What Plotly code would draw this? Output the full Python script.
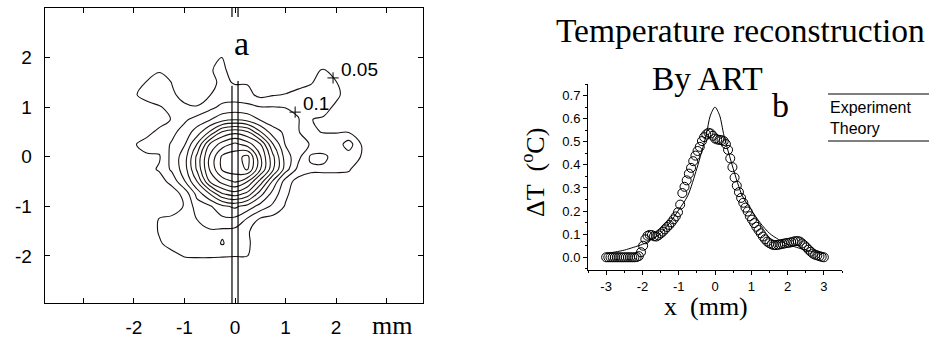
import plotly.graph_objects as go

# ---------------- Panel a: contour map data ----------------
grid_x = [-2.5, -2.25, -2.0, -1.75, -1.5, -1.25, -1.0, -0.75, -0.5, -0.25, 0.0,
          0.25, 0.5, 0.75, 1.0, 1.25, 1.5, 1.75, 2.0, 2.25, 2.5, 2.75]
grid_y_top_down = [2.25, 2.0, 1.75, 1.5, 1.25, 1.0, 0.75, 0.5, 0.25, 0.0, -0.25,
                   -0.5, -0.75, -1.0, -1.25, -1.5, -1.75, -2.0, -2.25]
z_rows_top_down = [
    [0] * 22,
    [0, 0, 0, 0, 0, 0, 0, 0, 0.035, 0.052, 0.015, 0, 0, 0, 0, 0, 0.005, 0.02, 0.01, 0, 0, 0],
    [0, 0, 0.01, 0.025, 0.045, 0.035, 0.015, 0.01, 0.045, 0.065, 0.015, 0.015, 0.013, 0.01, 0.008, 0.015, 0.04, 0.053, 0.03, 0.01, 0, 0],
    [0, 0.01, 0.03, 0.052, 0.07, 0.049, 0.025, 0.02, 0.035, 0.062, 0.045, 0.046, 0.025, 0.02, 0.028, 0.038, 0.046, 0.07, 0.052, 0.02, 0, 0],
    [0, 0.02, 0.045, 0.065, 0.07, 0.055, 0.04, 0.035, 0.048, 0.07, 0.075, 0.065, 0.035, 0.046, 0.052, 0.06, 0.07, 0.08, 0.06, 0.03, 0.01, 0],
    [0, 0.01, 0.025, 0.035, 0.047, 0.06, 0.055, 0.052, 0.085, 0.114, 0.118, 0.114, 0.102, 0.102, 0.098, 0.085, 0.075, 0.065, 0.042, 0.015, 0, 0],
    [0, 0.005, 0.02, 0.03, 0.035, 0.052, 0.09, 0.122, 0.145, 0.181, 0.197, 0.181, 0.145, 0.122, 0.13, 0.104, 0.051, 0.045, 0.03, 0.01, 0, 0],
    [0, 0.005, 0.02, 0.04, 0.058, 0.085, 0.123, 0.171, 0.255, 0.354, 0.382, 0.354, 0.255, 0.171, 0.14, 0.105, 0.056, 0.048, 0.048, 0.047, 0.02, 0],
    [0, 0.02, 0.047, 0.062, 0.07, 0.106, 0.146, 0.253, 0.405, 0.475, 0.514, 0.475, 0.405, 0.253, 0.146, 0.13, 0.095, 0.075, 0.07, 0.125, 0.048, 0],
    [0, 0.01, 0.03, 0.045, 0.045, 0.116, 0.175, 0.313, 0.456, 0.561, 0.58, 0.615, 0.456, 0.313, 0.175, 0.116, 0.042, 0.042, 0.065, 0.075, 0.048, 0],
    [0, 0.005, 0.02, 0.035, 0.055, 0.11, 0.175, 0.31, 0.455, 0.56, 0.58, 0.605, 0.455, 0.31, 0.175, 0.085, 0.058, 0.056, 0.056, 0.055, 0.025, 0],
    [0, 0, 0.01, 0.02, 0.03, 0.065, 0.146, 0.25, 0.402, 0.47, 0.506, 0.45, 0.33, 0.19, 0.075, 0.03, 0.03, 0.035, 0.035, 0.03, 0.01, 0],
    [0, 0, 0.005, 0.01, 0.015, 0.025, 0.065, 0.167, 0.25, 0.345, 0.375, 0.33, 0.22, 0.13, 0.06, 0.02, 0.01, 0.01, 0.01, 0.005, 0, 0],
    [0, 0, 0.01, 0.015, 0.025, 0.035, 0.052, 0.125, 0.143, 0.19, 0.21, 0.18, 0.13, 0.09, 0.045, 0.015, 0.005, 0, 0, 0, 0, 0],
    [0, 0, 0.01, 0.025, 0.051, 0.055, 0.06, 0.102, 0.125, 0.14, 0.14, 0.095, 0.045, 0.035, 0.02, 0.005, 0, 0, 0, 0, 0, 0],
    [0, 0, 0.01, 0.028, 0.053, 0.065, 0.07, 0.08, 0.095, 0.09, 0.085, 0.054, 0.03, 0.02, 0.01, 0, 0, 0, 0, 0, 0, 0],
    [0, 0, 0.005, 0.018, 0.046, 0.062, 0.067, 0.067, 0.07, 0.105, 0.067, 0.058, 0.02, 0.01, 0, 0, 0, 0, 0, 0, 0, 0],
    [0, 0, 0, 0.005, 0.02, 0.04, 0.052, 0.053, 0.053, 0.052, 0.051, 0.05, 0.01, 0.005, 0, 0, 0, 0, 0, 0, 0, 0],
    [0, 0, 0, 0, 0, 0.018, 0.03, 0.032, 0.032, 0.032, 0.03, 0.028, 0.005, 0, 0, 0, 0, 0, 0, 0, 0, 0],
]
contour_levels = dict(start=0.05, end=0.6, size=0.05)

label_text = ["0.05", "0.1"]
label_x = [1.94, 1.19]
label_y = [1.59, 0.90]

cut_x = [-0.06, 0.06]
cut_top = [1.43, 1.53]
cut_stub = [2.82, 3.0]

a_xticks = [-2, -1, 0, 1, 2]
a_xticktext = ["-2", "-1", "0", "1", "2"]
a_xedge_ticks = [-3, 3]
a_yticks = [-2, -1, 0, 1, 2]
a_yticktext = ["-2", "-1", "0", "1", "2"]

# ---------------- Panel b: profile data ----------------
exp_x = [-3.00, -2.94, -2.88, -2.82, -2.76, -2.70, -2.64, -2.58, -2.52, -2.46, -2.40,
         -2.34, -2.28, -2.22, -2.16, -2.10, -2.04, -1.98, -1.92, -1.86, -1.80, -1.74,
         -1.68, -1.62, -1.56, -1.50, -1.44, -1.38, -1.32, -1.26, -1.20, -1.14, -1.08,
         -1.02, -0.96, -0.90, -0.84, -0.78, -0.72, -0.66, -0.60, -0.54, -0.48, -0.42,
         -0.36, -0.30, -0.24, -0.18, -0.12, -0.06, 0.00, 0.06, 0.12, 0.18, 0.24, 0.30,
         0.36, 0.42, 0.48, 0.54, 0.60, 0.66, 0.72, 0.78, 0.84, 0.90, 0.96, 1.02, 1.08,
         1.14, 1.20, 1.26, 1.32, 1.38, 1.44, 1.50, 1.56, 1.62, 1.68, 1.74, 1.80, 1.86,
         1.92, 1.98, 2.04, 2.10, 2.16, 2.22, 2.28, 2.34, 2.40, 2.46, 2.52, 2.58, 2.64,
         2.70, 2.76, 2.82, 2.88, 2.94, 3.00]
exp_y = [0, 0, 0, 0, 0, 0, 0, 0, 0, 0, 0,
         0, 0, 0, 0.001, 0.005, 0.022, 0.05, 0.078, 0.093, 0.097, 0.096,
         0.091, 0.09, 0.095, 0.103, 0.111, 0.121, 0.131, 0.14, 0.151, 0.164, 0.177,
         0.195, 0.228, 0.278, 0.305, 0.333, 0.362, 0.387, 0.416, 0.44, 0.46, 0.478,
         0.503, 0.52, 0.532, 0.539, 0.536, 0.526, 0.514, 0.51, 0.508, 0.507, 0.503, 0.49,
         0.465, 0.428, 0.39, 0.345, 0.31, 0.282, 0.257, 0.236, 0.215, 0.198, 0.178, 0.163, 0.148,
         0.132, 0.118, 0.104, 0.09, 0.078, 0.068, 0.061, 0.056, 0.053, 0.053, 0.054, 0.056, 0.058,
         0.06, 0.062, 0.063, 0.065, 0.068, 0.07, 0.07, 0.068, 0.06, 0.052, 0.043, 0.033, 0.024,
         0.016, 0.011, 0.008, 0.005, 0.002, 0.0]
theory_x = [-3.0, -2.75, -2.5, -2.25, -2.0, -1.75, -1.5, -1.25, -1.0, -0.75, -0.5, -0.25,
            -0.125, 0.0, 0.125, 0.25, 0.5, 0.75, 1.0, 1.25, 1.5, 1.75, 2.0, 2.25, 2.5, 2.75, 3.0]
theory_y = [0.017, 0.023, 0.031, 0.043, 0.056, 0.077, 0.104, 0.148, 0.205, 0.267, 0.385, 0.525,
            0.615, 0.65, 0.615, 0.525, 0.385, 0.267, 0.205, 0.148, 0.104, 0.077, 0.056, 0.043, 0.031, 0.023, 0.017]
b_xticks = [-3, -2, -1, 0, 1, 2, 3]
b_xticktext = ["-3", "-2", "-1", "0", "1", "2", "3"]
legend_labels = ["Experiment", "Theory"]

W, H = 929, 339
SERIF = "Liberation Serif, Times New Roman, serif"
SANS = "Liberation Sans, Arial, sans-serif"


def px_x(p):
    return p / W


def px_y(p):
    return 1 - p / H


fig = go.Figure()

grid_y = grid_y_top_down[::-1]
z = z_rows_top_down[::-1]
fig.add_trace(go.Contour(
    x=grid_x, y=grid_y, z=z,
    contours=dict(coloring="none", showlabels=False, **contour_levels),
    line=dict(color="#1c1212", width=1.1, smoothing=1.0),
    showscale=False, hoverinfo="skip", xaxis="x", yaxis="y",
))
fig.add_trace(go.Scatter(
    x=label_x, y=label_y, mode="markers",
    marker=dict(symbol="cross-thin", size=8, line=dict(width=1, color="black")),
    hoverinfo="skip", showlegend=False, xaxis="x", yaxis="y",
))

fig.add_trace(go.Scatter(
    x=theory_x, y=theory_y, mode="lines", name=legend_labels[1],
    line=dict(color="black", width=1, shape="spline", smoothing=0.8),
    showlegend=False, xaxis="x2", yaxis="y2",
))
fig.add_trace(go.Scatter(
    x=exp_x, y=exp_y, mode="markers", name=legend_labels[0],
    marker=dict(symbol="circle-open", size=9, color="black", line=dict(width=1, color="black")),
    showlegend=False, xaxis="x2", yaxis="y2",
))

shapes = []
for cx, top in zip(cut_x, cut_top):
    shapes.append(dict(type="line", xref="x", yref="y", x0=cx, x1=cx, y0=-2.95, y1=top,
                       line=dict(color="black", width=1.2)))
    shapes.append(dict(type="line", xref="x", yref="y", x0=cx, x1=cx, y0=cut_stub[0], y1=cut_stub[1],
                       line=dict(color="black", width=1.2)))
for yy in (94, 141):
    shapes.append(dict(type="line", xref="paper", yref="paper", x0=px_x(828), x1=1.0,
                       y0=px_y(yy), y1=px_y(yy), line=dict(color="black", width=1.2)))

ann = []
for t, lx, ly in zip(label_text, label_x, label_y):
    ann.append(dict(text=t, x=lx + 0.12, y=ly + 0.17, xref="x", yref="y", xanchor="left",
                    yanchor="middle", showarrow=False, font=dict(family=SANS, size=19, color="black")))
ann += [
    dict(text="a", x=px_x(241), y=px_y(43), xref="paper", yref="paper", showarrow=False,
         font=dict(family=SERIF, size=34, color="black"), xanchor="center", yanchor="middle"),
    dict(text="mm", x=px_x(392), y=px_y(325), xref="paper", yref="paper", showarrow=False,
         font=dict(family=SERIF, size=26, color="black"), xanchor="center", yanchor="middle"),
    dict(text="Temperature reconstruction", x=px_x(740), y=px_y(31), xref="paper", yref="paper",
         showarrow=False, font=dict(family=SERIF, size=33.5, color="black"), xanchor="center", yanchor="middle"),
    dict(text="By ART", x=px_x(707), y=px_y(78), xref="paper", yref="paper",
         showarrow=False, font=dict(family=SERIF, size=33.5, color="black"), xanchor="center", yanchor="middle"),
    dict(text="b", x=px_x(780), y=px_y(105), xref="paper", yref="paper",
         showarrow=False, font=dict(family=SERIF, size=34, color="black"), xanchor="center", yanchor="middle"),
    dict(text="\u0394T\u00a0\u00a0(<sup>o</sup>C)", x=px_x(533), y=px_y(173), xref="paper", yref="paper",
         showarrow=False, textangle=-90, font=dict(family=SERIF, size=26, color="black"),
         xanchor="center", yanchor="middle"),
    dict(text="x\u00a0\u00a0(mm)", x=px_x(706), y=px_y(306), xref="paper", yref="paper",
         showarrow=False, font=dict(family=SERIF, size=26, color="black"), xanchor="center", yanchor="middle"),
    dict(text=legend_labels[0], x=px_x(828), y=px_y(107), xref="paper", yref="paper",
         showarrow=False, font=dict(family=SANS, size=16, color="black"), xanchor="left", yanchor="middle"),
    dict(text=legend_labels[1], x=px_x(828), y=px_y(128), xref="paper", yref="paper",
         showarrow=False, font=dict(family=SANS, size=16, color="black"), xanchor="left", yanchor="middle"),
]

axis_common = dict(showgrid=False, zeroline=False, showline=True, linecolor="black",
                   ticks="inside", tickcolor="black")
fig.update_layout(
    width=W, height=H, margin=dict(l=0, r=0, t=0, b=0),
    paper_bgcolor="white", plot_bgcolor="white", showlegend=False,
    xaxis=dict(domain=[px_x(45), px_x(423)], range=[-3.76, 3.72], anchor="y",
               tickvals=a_xticks, ticktext=a_xticktext, ticklen=5, linewidth=1.3,
               mirror="ticks", tickfont=dict(family=SANS, size=19, color="black"),
               ticklabelstandoff=7,
               minor=dict(tickvals=a_xedge_ticks, ticks="inside", ticklen=5, tickcolor="black"),
               **axis_common),
    yaxis=dict(domain=[px_y(303), px_y(8)], range=[-2.95, 3.0], anchor="x",
               tickvals=a_yticks, ticktext=a_yticktext, ticklen=5, linewidth=1.3, mirror="ticks",
               tickfont=dict(family=SANS, size=19, color="black"), ticklabelstandoff=8,
               **axis_common),
    xaxis2=dict(domain=[px_x(588), px_x(842)], range=[-3.5, 3.5], anchor="y2",
                tickvals=b_xticks, ticktext=b_xticktext, ticks="outside", ticklen=4, tickcolor="black",
                showline=True, linecolor="black", linewidth=1, showgrid=False, zeroline=False,
                tickfont=dict(family=SANS, size=13, color="black"),
                minor=dict(dtick=0.5, ticks="outside", ticklen=2, tickcolor="black")),
    yaxis2=dict(domain=[px_y(270), px_y(84)], range=[-0.055, 0.75], anchor="x2",
                dtick=0.1, tick0=0, tickformat=".1f", ticks="outside", ticklen=4, tickcolor="black",
                showline=True, linecolor="black", linewidth=1, showgrid=False, zeroline=False,
                tickfont=dict(family=SANS, size=13, color="black"),
                minor=dict(dtick=0.05, ticks="outside", ticklen=2, tickcolor="black")),
    shapes=shapes, annotations=ann,
)

fig.write_html("out.html", config={"displayModeBar": False, "staticPlot": True},
               post_script="document.body.style.margin='0px';document.body.style.overflow='hidden';")
